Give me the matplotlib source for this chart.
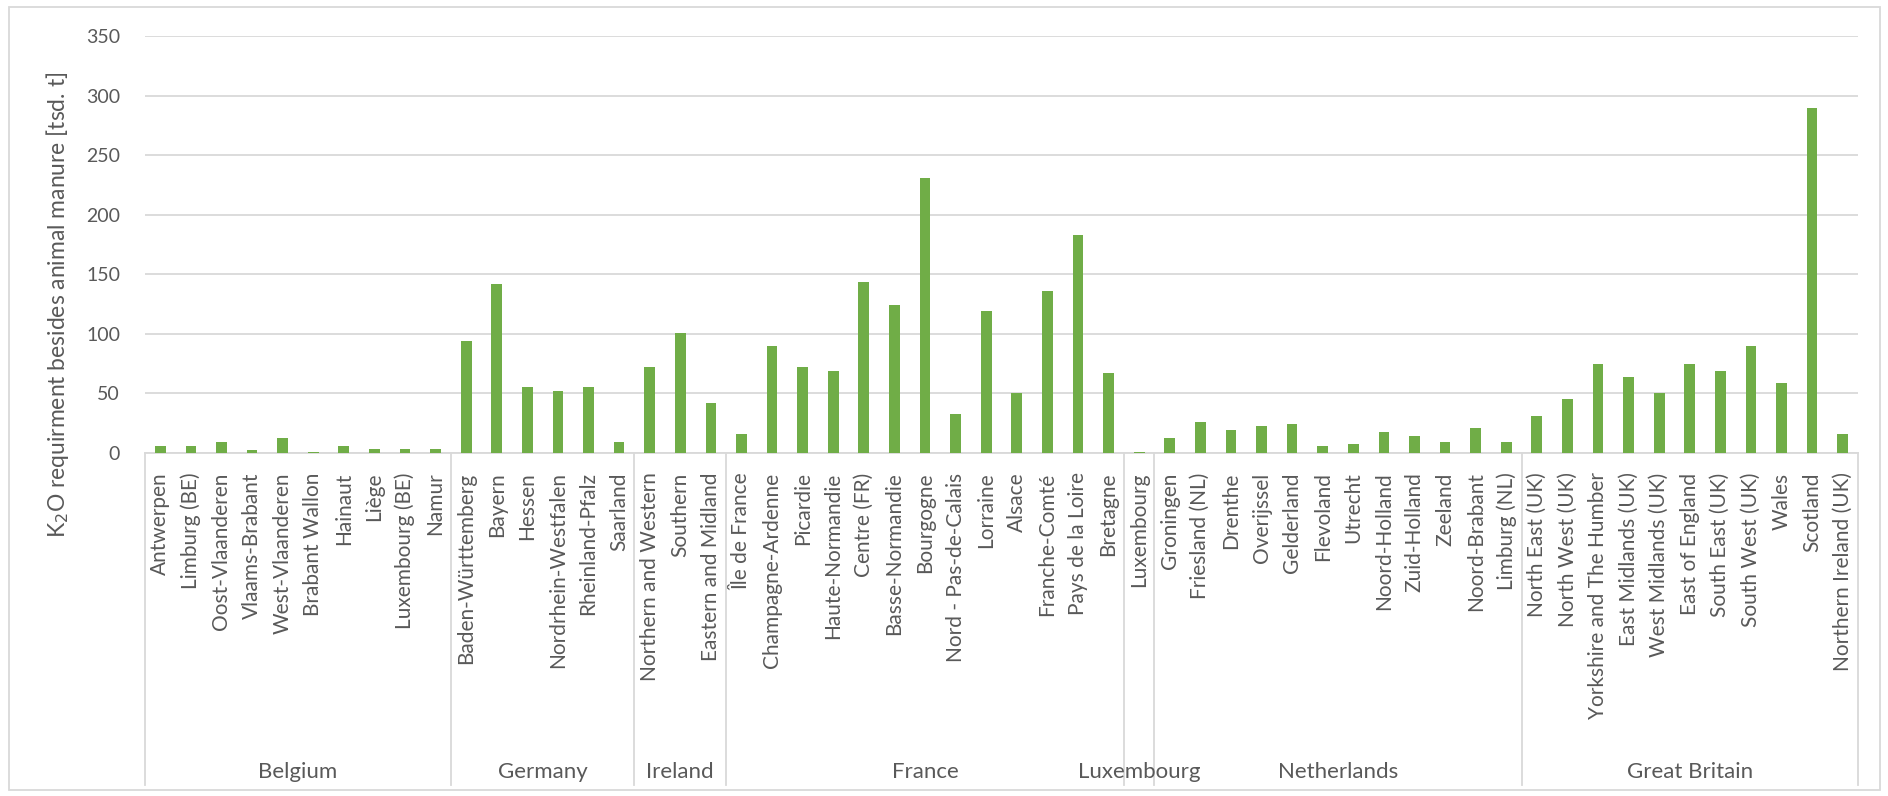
import matplotlib.pyplot as plt
from matplotlib.patches import Rectangle

plt.rcParams['font.family'] = ['Lato', 'DejaVu Sans']

countries = ["Belgium", "Germany", "Ireland", "France", "Luxembourg", "Netherlands", "Great Britain"]

belgium = ["Antwerpen", "Limburg (BE)", "Oost-Vlaanderen", "Vlaams-Brabant", "West-Vlaanderen",
           "Brabant Wallon", "Hainaut", "Liège", "Luxembourg (BE)", "Namur"]
belgium_vals = [5.6, 5.6, 9.0, 2.2, 12.6, 0.6, 5.6, 3.6, 3.6, 3.6]

germany = ["Baden-Württemberg", "Bayern", "Hessen", "Nordrhein-Westfalen", "Rheinland-Pfalz", "Saarland"]
germany_vals = [93.6, 141.6, 55.5, 52.1, 55.5, 9.0]

ireland = ["Northern and Western", "Southern", "Eastern and Midland"]
ireland_vals = [72.6, 100.6, 41.8]

france = ["Île de France", "Champagne-Ardenne", "Picardie", "Haute-Normandie", "Centre (FR)",
          "Basse-Normandie", "Bourgogne", "Nord - Pas-de-Calais", "Lorraine", "Alsace",
          "Franche-Comté", "Pays de la Loire", "Bretagne"]
france_vals = [15.7, 89.7, 72.6, 69.2, 143.2, 124.5, 231.2, 33.1, 119.1, 50.2, 136.2, 183.0, 67.3]

luxembourg = ["Luxembourg"]
luxembourg_vals = [0.6]

netherlands = ["Groningen", "Friesland (NL)", "Drenthe", "Overijssel", "Gelderland", "Flevoland",
               "Utrecht", "Noord-Holland", "Zuid-Holland", "Zeeland", "Noord-Brabant", "Limburg (NL)"]
netherlands_vals = [12.3, 26.1, 19.3, 22.7, 24.4, 5.6, 7.3, 17.7, 14.3, 9.0, 21.0, 9.0]

britain = ["North East (UK)", "North West (UK)", "Yorkshire and The Humber", "East Midlands (UK)",
           "West Midlands (UK)", "East of England", "South East (UK)", "South West (UK)", "Wales",
           "Scotland", "Northern Ireland (UK)"]
britain_vals = [31.4, 45.4, 74.3, 64.2, 50.2, 74.3, 69.2, 89.7, 58.9, 289.8, 15.7]

groups = [belgium, germany, ireland, france, luxembourg, netherlands, britain]
group_vals = [belgium_vals, germany_vals, ireland_vals, france_vals, luxembourg_vals,
              netherlands_vals, britain_vals]

regions = [r for g in groups for r in g]
values = [v for g in group_vals for v in g]
x = list(range(len(regions)))

W, H = 1888, 796
fig = plt.figure(figsize=(W / 100, H / 100), dpi=100)
ax = fig.add_axes([145 / W, 1 - 453 / H, (1858 - 145) / W, (453 - 36) / H])

ax.bar(x, values, width=0.35, color="#70ad47", zorder=3)

ax.set_xlim(-0.5, len(regions) - 0.5)
ax.set_ylim(0, 350)
ax.set_yticks(range(0, 351, 50))
ax.grid(axis="y", color="#d9d9d9", linewidth=1.3, zorder=0)
for s in ["top", "right", "left"]:
    ax.spines[s].set_visible(False)
ax.spines["bottom"].set_color("#d9d9d9")
ax.spines["bottom"].set_linewidth(1.3)
ax.tick_params(axis="y", length=0, labelsize=14, labelcolor="#595959", pad=18)
ax.set_xticks(x)
ax.set_xticklabels(regions, rotation=90, fontsize=15, color="#595959")
ax.tick_params(axis="x", length=0, pad=14)

ax.set_ylabel("K$_2$O requirment besides animal manure [tsd. t]", fontsize=16.5, color="#595959")
ax.yaxis.set_label_coords(-0.043, 0.355)

# country level of the category axis
tr = ax.get_xaxis_transform()
sep_bottom = -(785 - 453) / (453 - 36)
label_y = -(772 - 453) / (453 - 36)
start = 0
bounds = [-0.5]
for name, g in zip(countries, groups):
    end = start + len(g)
    bounds.append(end - 0.5)
    ax.text((start + end - 1) / 2, label_y, name, transform=tr, ha="center", va="center",
            fontsize=16, color="#595959")
    start = end
for b in bounds:
    ax.plot([b, b], [0, sep_bottom], transform=tr, color="#d9d9d9", linewidth=1.3, clip_on=False)

fig.patches.append(Rectangle((9 / W, 1 - 790 / H), (1880 - 9) / W, (790 - 7) / H,
                             transform=fig.transFigure, fill=False, edgecolor="#d9d9d9", linewidth=1.3))

fig.savefig("out.png", dpi=100)
